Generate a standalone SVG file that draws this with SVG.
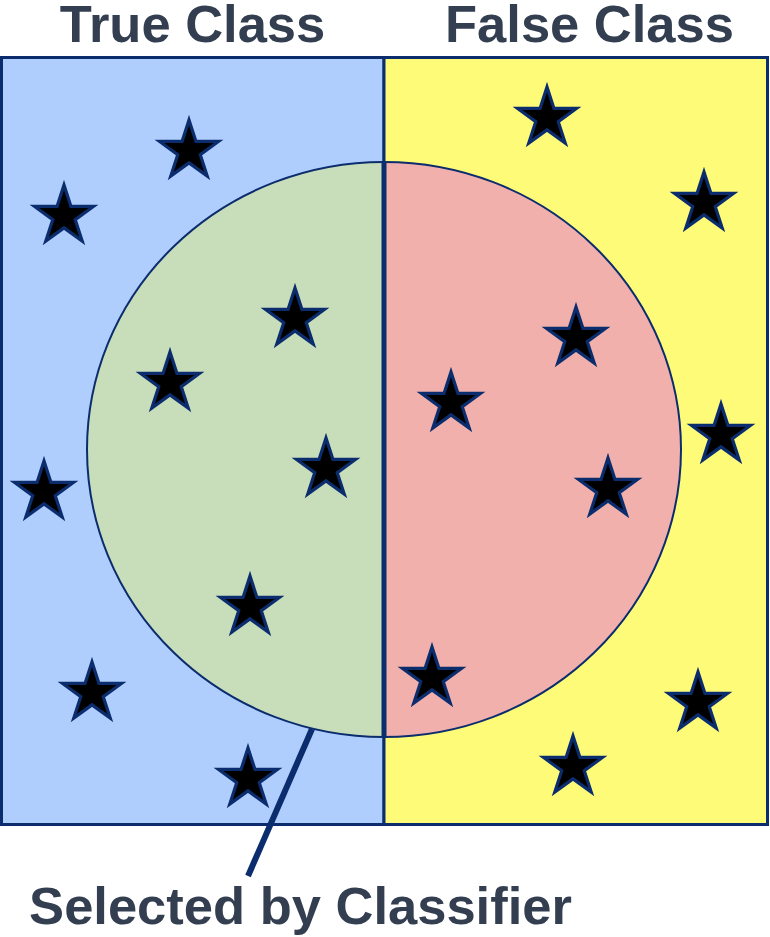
<svg xmlns="http://www.w3.org/2000/svg" xmlns:xlink="http://www.w3.org/1999/xlink" width="770" height="937" viewBox="0 0 770 937">
<style>
.title{font-family:"Liberation Sans",Arial,sans-serif;font-weight:bold;fill:#333f50;font-size:52.5px;text-anchor:middle}
.edge{stroke:#0b2d6e;stroke-width:3;}
.star{fill:#000;stroke:#0b2d6e;stroke-width:3.2;stroke-linejoin:miter}
</style>
<defs>
<path id="star" class="star" d="M0,-31 L6.96,-9.58 L29.48,-9.58 L11.26,3.66 L18.22,25.08 L0,11.84 L-18.22,25.08 L-11.26,3.66 L-29.48,-9.58 L-6.96,-9.58 Z"/>
<clipPath id="leftHalf"><rect x="0" y="0" width="384" height="937"/></clipPath>
<clipPath id="rightHalf"><rect x="384" y="0" width="386" height="937"/></clipPath>
</defs>
<rect width="770" height="937" fill="#ffffff"/>
<g id="true-class">
<rect x="1.5" y="57.5" width="382.5" height="767" fill="#b0cefd" class="edge"/>
<text class="title" x="192.5" y="41.5">True Class</text>
</g>
<g id="false-class">
<rect x="384" y="57.5" width="383.5" height="767" fill="#fefb79" class="edge"/>
<text class="title" x="589.5" y="41.5">False Class</text>
</g>
<g id="selected">
<ellipse cx="384" cy="449.5" rx="297" ry="287.5" fill="#c8ddb9" clip-path="url(#leftHalf)"/>
<ellipse cx="384" cy="449.5" rx="297" ry="287.5" fill="#f1b0ac" clip-path="url(#rightHalf)"/>
<ellipse cx="384" cy="449.5" rx="297" ry="287.5" fill="none" stroke="#0b2d6e" stroke-width="2"/>
<line x1="384" y1="162" x2="384" y2="737" stroke="#0b2d6e" stroke-width="5"/>
<text class="title" x="300.5" y="924" font-size="53">Selected by Classifier</text>
</g>
<g id="connectors">
<line x1="312" y1="729" x2="248" y2="876" stroke="#0b2d6e" stroke-width="6"/>
</g>
<g id="stars">
<use xlink:href="#star" x="189" y="151"/>
<use xlink:href="#star" x="64" y="216"/>
<use xlink:href="#star" x="295" y="319"/>
<use xlink:href="#star" x="170" y="383"/>
<use xlink:href="#star" x="326" y="469"/>
<use xlink:href="#star" x="44" y="492"/>
<use xlink:href="#star" x="250" y="607"/>
<use xlink:href="#star" x="92" y="693"/>
<use xlink:href="#star" x="248" y="779"/>
<use xlink:href="#star" x="547" y="118"/>
<use xlink:href="#star" x="704" y="203"/>
<use xlink:href="#star" x="576" y="338"/>
<use xlink:href="#star" x="451" y="403"/>
<use xlink:href="#star" x="721" y="435"/>
<use xlink:href="#star" x="608" y="489"/>
<use xlink:href="#star" x="432" y="678"/>
<use xlink:href="#star" x="698" y="703"/>
<use xlink:href="#star" x="573" y="767"/>
</g>
</svg>
